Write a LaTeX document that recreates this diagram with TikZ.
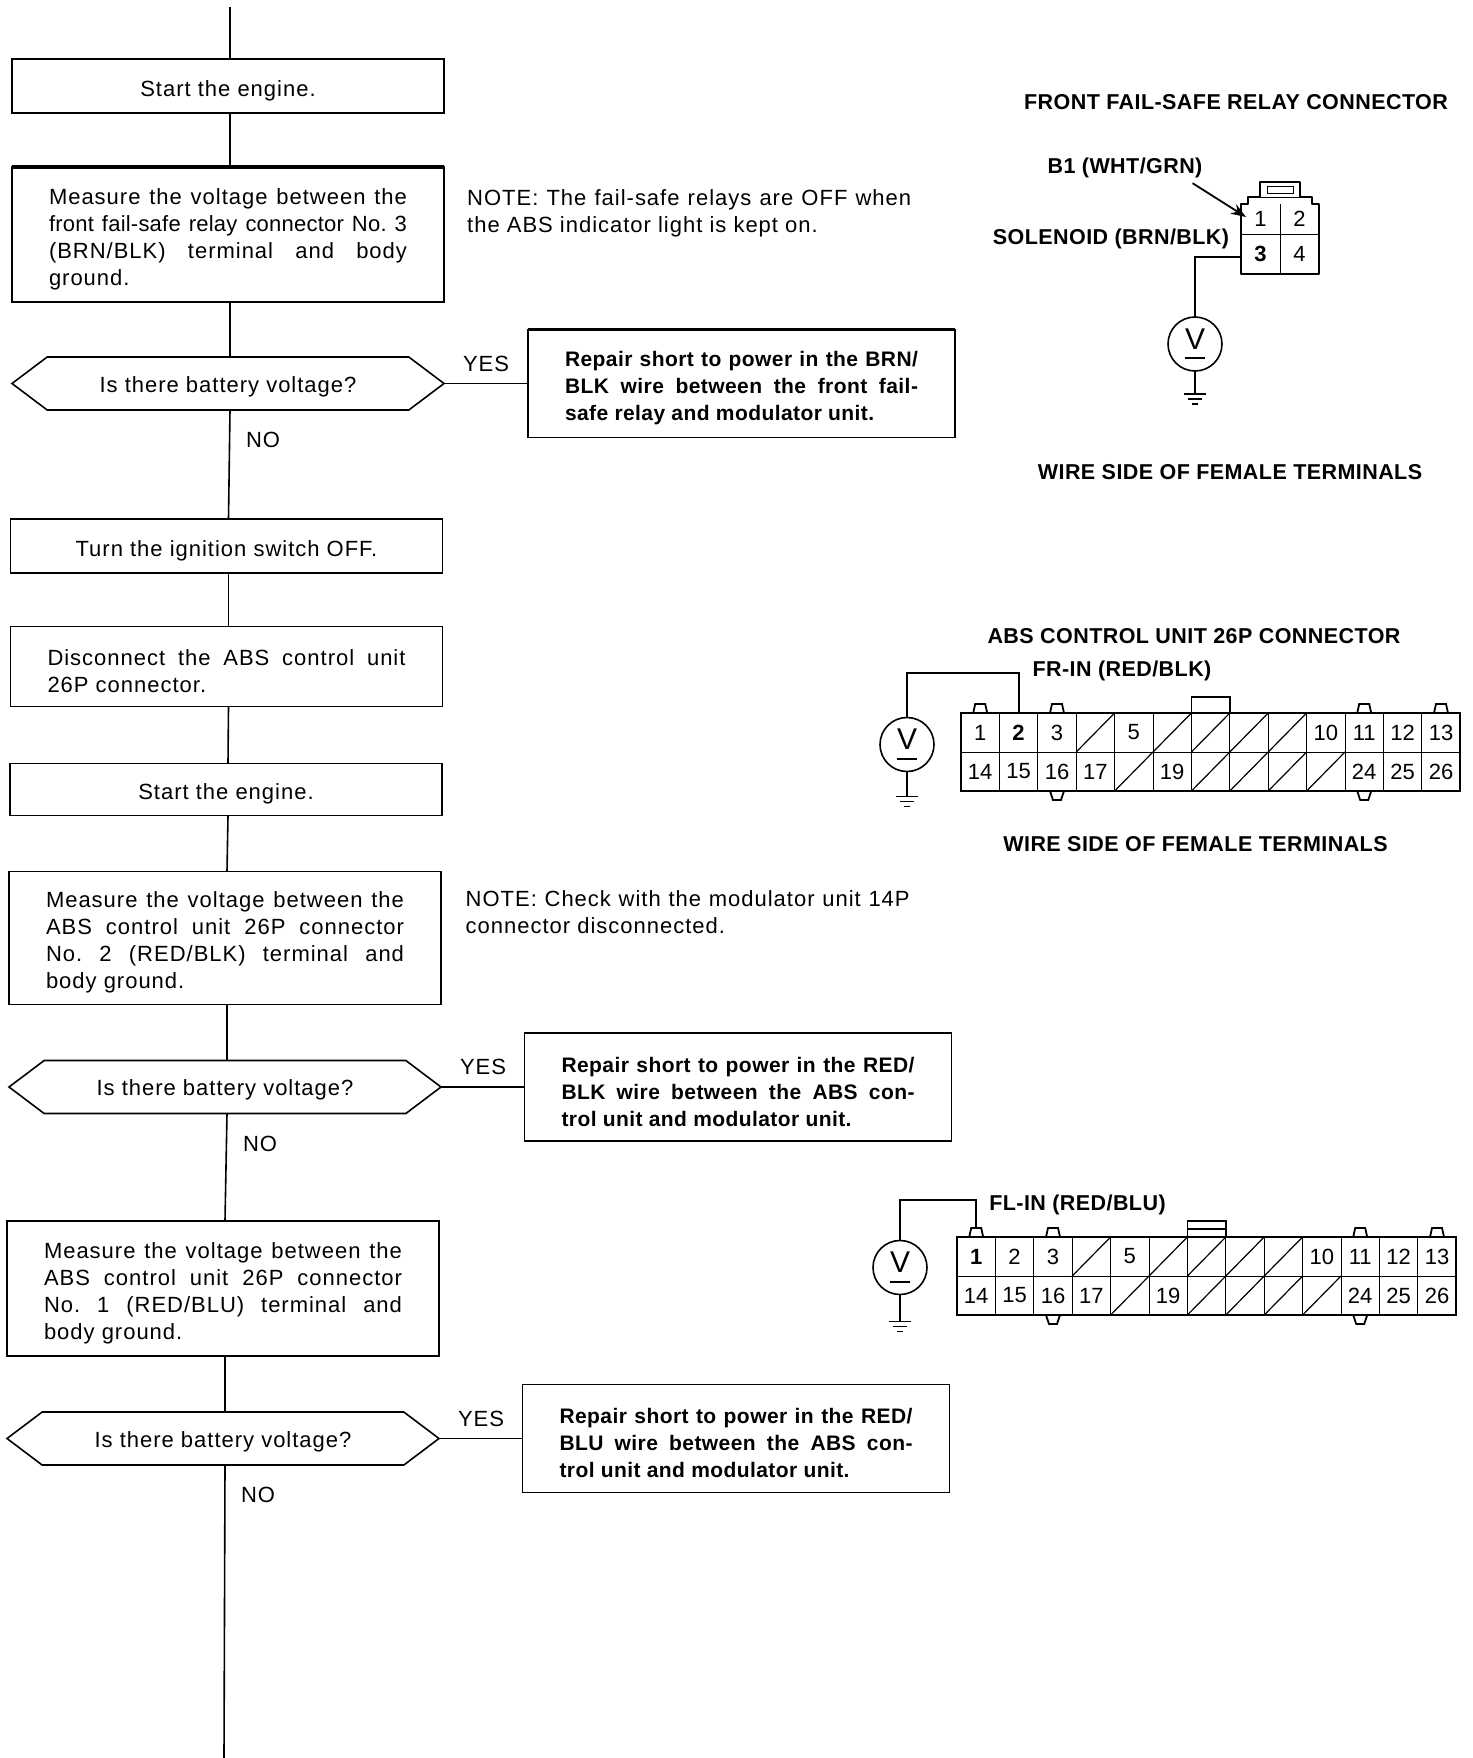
\documentclass[tikz,border=0pt]{standalone}
\usepackage{fontspec}
\setmainfont{Liberation Sans}
\usetikzlibrary{positioning,shapes.symbols,arrows.meta}

% flow text has wide tracking in the reference
\newcommand{\bodyfont}{\fontsize{22}{27}\selectfont\addfontfeature{LetterSpace=4.5}\frenchspacing}
\newcommand{\repairfont}{\fontsize{21}{27}\selectfont\bfseries\addfontfeature{LetterSpace=2}\frenchspacing}
\newcommand{\jl}[2][358pt]{\makebox[#1][s]{#2}}

\tikzset{
	flowbox/.style={draw, rectangle, line width=1.6pt, minimum width=432pt, inner sep=0pt, outer sep=0pt, font=\bodyfont, execute at begin node={\rule{0pt}{25pt}\ignorespaces}},
	textbox/.style={flowbox, text width=358pt, align=flush left},
	repairbox/.style={flowbox, minimum width=427pt, minimum height=108pt, text width=353pt, align=flush left, font=\repairfont},
	askbox/.style={draw, line width=1.6pt, signal, signal to=west and east, signal pointer angle=74, minimum width=432pt, minimum height=53pt, inner sep=0pt, outer sep=0pt, font=\bodyfont, execute at begin node={\rule{0pt}{22pt}\ignorespaces}},
	flowline/.style={line width=1.6pt},
	answer/.style={inner sep=0pt, font=\bodyfont},
	notetext/.style={inner sep=0pt, text width=444pt, align=flush left, anchor=north west, font=\bodyfont},
	heading/.style={inner sep=0pt, font=\fontsize{21.5}{26}\selectfont\bfseries\addfontfeature{LetterSpace=2}},
	wire/.style={line width=1.8pt},
	cell/.style={draw, line width=1pt, rectangle, minimum width=38.4pt, minimum height=39pt, inner sep=0pt, outer sep=0pt, font=\fontsize{22}{26}\selectfont},
	relaycell/.style={cell, draw=none, minimum width=39pt},
	meter/.style={draw, circle, line width=1.6pt, minimum size=54pt, inner sep=0pt, outer sep=0pt, align=center, font=\fontsize{30}{10}\selectfont},
	gndmark/.pic={
		\draw[wire] (-11pt,0) -- (11pt,0);
		\draw[line width=1.3pt] (-7pt,-5pt) -- (7pt,-5pt);
		\draw[line width=1.3pt] (-3pt,-10pt) -- (3pt,-10pt);
	},
	toptab/.pic={
		\draw[wire] (-7pt,0) -- (-5pt,9pt) -- (5pt,9pt) -- (7pt,0);
	},
	bottab/.pic={
		\draw[wire] (-7pt,0) -- (-4pt,-9pt) -- (4pt,-9pt) -- (7pt,0);
	}
}

% 26P connector block, origin at its top left corner: #1 name prefix, #2 bold terminal
\newcommand{\abscells}[2]{
	\foreach \k/\lab in {1/1,2/2,3/3,4/{},5/5,6/{},7/{},8/{},9/{},10/10,11/11,12/12,13/13}
		\node[cell] (#1\k) at ({(\k-.5)*38.4},19.5) {\ifnum\k=#2 \bfseries\fi\lab};
	\foreach \k/\lab in {14/14,15/15,16/16,17/17,18/{},19/19,20/{},21/{},22/{},23/{},24/24,25/25,26/26}
		\node[cell] (#1\k) at ({(\k-13.5)*38.4},58.5) {\lab};
	\foreach \k in {4,6,7,8,9,18,20,21,22,23}
		\draw[line width=1.2pt] (#1\k.south west) -- (#1\k.north east);
	\draw[wire] (#11.north west) rectangle (#126.south east);
	\foreach \k in {1,3,11,13}
		\pic at (#1\k.north) {toptab};
	\foreach \k in {16,24}
		\pic at (#1\k.south) {bottab};
	\draw[wire] (#17.north west) -- ++(0,16pt) -| (#17.north east);
}

\begin{document}
\begin{tikzpicture}[x=1pt, y=-1pt]
	\useasboundingbox (0,0) rectangle (1472,1758);

	% flow column
	\node[flowbox, minimum height=54pt] (start1) at (228,86) {Start the engine.};
	\node[textbox, minimum height=135pt] (measure1) [below=54pt of start1] {
		\jl{Measure the voltage between the}\\
		\jl{\addfontfeature{LetterSpace=1}front fail-safe relay connector No. 3}\\
		\jl{(BRN/BLK) terminal and body}\\
		ground.};
	\node[askbox] (ask1) [below=55pt of measure1] {Is there battery voltage?};
	\node[flowbox, minimum height=54pt] (off) [below=109pt of ask1, xshift=-1.5pt] {Turn the ignition switch OFF.};
	\node[textbox, minimum height=80pt] (unplug) [below=53.5pt of off] {
		\jl{Disconnect the ABS control unit}\\
		26P connector.};
	\node[flowbox, minimum height=52pt] (start2) [below=57pt of unplug, xshift=-.5pt] {Start the engine.};
	\node[textbox, minimum height=133pt] (measure2) [below=56pt of start2, xshift=-1pt] {
		\jl{Measure the voltage between the}\\
		\jl{ABS control unit 26P connector}\\
		\jl{No. 2 (RED/BLK) terminal and}\\
		body ground.};
	\node[askbox] (ask2) [below=56pt of measure2] {Is there battery voltage?};
	\node[textbox, minimum height=135pt] (measure3) [below=107.5pt of ask2, xshift=-2pt] {
		\jl{Measure the voltage between the}\\
		\jl{ABS control unit 26P connector}\\
		\jl{No. 1 (RED/BLU) terminal and}\\
		body ground.};
	\node[askbox] (ask3) [below=56pt of measure3] {Is there battery voltage?};
	\coordinate (flowtop) at ([yshift=52pt]start1.north);
	\coordinate (flowend) at (ask3.south |- 0,1758);

	% repair boxes
	\node[repairbox] (repair1) [right=84pt of ask1] {
		\jl[353pt]{Repair short to power in the BRN/}\\
		\jl[353pt]{BLK wire between the front fail-}\\
		safe relay and modulator unit.};
	\node[repairbox] (repair2) [right=83.5pt of ask2] {
		\jl[353pt]{Repair short to power in the RED/}\\
		\jl[353pt]{BLK wire between the ABS con-}\\
		trol unit and modulator unit.};
	\node[repairbox] (repair3) [right=83.5pt of ask3] {
		\jl[353pt]{Repair short to power in the RED/}\\
		\jl[353pt]{BLU wire between the ABS con-}\\
		trol unit and modulator unit.};

	\foreach \a/\b in {flowtop/start1, start1/measure1, measure1/ask1, ask1/off, off/unplug, unplug/start2, start2/measure2, measure2/ask2, ask2/measure3, measure3/ask3}
		\draw[flowline] ([xshift=2pt]\a.south) -- ([xshift=2pt]\b.north);
	\draw[flowline] ([xshift=2pt]ask3.south) -- ([xshift=1pt]flowend);
	\foreach \n in {1,2,3}
		\draw[flowline] (ask\n.east) -- (repair\n.west);

	% answers on the branches
	\foreach \n in {1,2,3} {
		\node[answer] (yes\n) at ([shift={(42pt,20pt)}]ask\n.east) {YES};
		\node[answer] (no\n) at ([shift={(35pt,-30pt)}]ask\n.south) {NO};
	}

	% notes
	\node[notetext] (note1) at ([shift={(23pt,-22pt)}]measure1.north east) {
		\jl[444pt]{NOTE: The fail-safe relays are OFF when}\\
		the ABS indicator light is kept on.};
	\node[notetext] (note2) at ([shift={(24.5pt,-19pt)}]measure2.north east) {
		\jl[444pt]{NOTE: Check with the modulator unit 14P}\\
		connector disconnected.};

	% thick edges of the scan
	\draw[line width=3.5pt] (measure1.north west) -- (measure1.north east);
	\draw[line width=3.5pt] (repair1.north west) -- (repair1.north east);

	% front fail-safe relay connector
	\node[heading] (relayhead) at (1236,102) {FRONT FAIL-SAFE RELAY CONNECTOR};
	\node[heading] (b1lab) at (1125,168) {B1 (WHT/GRN)};
	\node[heading] (sollab) at (1111,239) {SOLENOID (BRN/BLK)};
	\node[heading] (relayside) at (1230,472) {WIRE SIDE OF FEMALE TERMINALS};
	\node[relaycell, minimum height=30pt] (r1) at (1260.5,219) {1};
	\node[relaycell, minimum height=30pt] (r2) [right=0pt of r1] {2};
	\node[relaycell, minimum height=40pt] (r3) at (1260.5,254) {\bfseries 3};
	\node[relaycell, minimum height=40pt] (r4) [right=0pt of r3] {4};
	\draw[line width=1pt] (r1.north east) -- (r3.south east);
	\draw[line width=1pt] (r3.north west) -- (r4.north east);
	\draw[wire, line join=round] (r3.south west) -- (r1.north west) -- ++(7pt,0) -- ++(0,7pt) -- ++(12pt,0) -- ++(0,15pt) -- ++(40pt,0) -- ++(0,-15pt) -- ++(12pt,0) -- ++(0,-7pt) -- (r2.north east) -- (r4.south east) -- cycle;
	\draw[line width=1pt] ([shift={(26pt,18pt)}]r1.north west) rectangle ++(26pt,-7pt);
	\draw[line width=1pt] ([shift={(19pt,7pt)}]r1.north west) -- ++(40pt,0);
	\node[meter] (vrelay) at (1195,344) {V\\\rule{20pt}{2pt}};
	\coordinate (grelay) at ([yshift=-23pt]vrelay.south);
	\draw[wire] ([yshift=-3pt]r3.west) -| (vrelay.north);
	\draw[wire] (vrelay.south) -- (grelay);
	\pic at (grelay) {gndmark};
	\draw[wire, -{Stealth[length=15pt,width=11pt]}] ([shift={(-10pt,-5pt)}]b1lab.south east) -- ([shift={(5pt,2pt)}]r1.west);

	% ABS connector, FR-IN
	\node[heading] (abshead) at (1194,636) {ABS CONTROL UNIT 26P CONNECTOR};
	\node[heading] (frlab) at (1122,671) {FR-IN (RED/BLK)};
	\node[heading] (absside) at (1195.5,844.5) {WIRE SIDE OF FEMALE TERMINALS};
	\begin{scope}[shift={(961,713)}]
		\abscells{fr}{2}
	\end{scope}
	\node[meter] (vfr) at (907,744.5) {V\\\rule{20pt}{2pt}};
	\coordinate (gfr) at ([yshift=-25pt]vfr.south);
	\draw[wire] (vfr.north) |- ([yshift=40pt]fr2.north) -- (fr2.north);
	\draw[wire] (vfr.south) -- (gfr);
	\pic at (gfr) {gndmark};

	% ABS connector, FL-IN
	\node[heading] (fllab) at (1077.5,1205) {FL-IN (RED/BLU)};
	\begin{scope}[shift={(957,1237)}]
		\abscells{fl}{1}
	\end{scope}
	\draw[line width=1.4pt] ([yshift=8pt]fl7.north west) -- ([yshift=8pt]fl7.north east);
	\node[meter] (vfl) at (900,1267.5) {V\\\rule{20pt}{2pt}};
	\coordinate (gfl) at ([yshift=-27pt]vfl.south);
	\draw[wire] (vfl.north) |- ([yshift=37pt]fl1.north) -- ([yshift=9pt]fl1.north);
	\draw[wire] (vfl.south) -- (gfl);
	\pic at (gfl) {gndmark};
\end{tikzpicture}
\end{document}
